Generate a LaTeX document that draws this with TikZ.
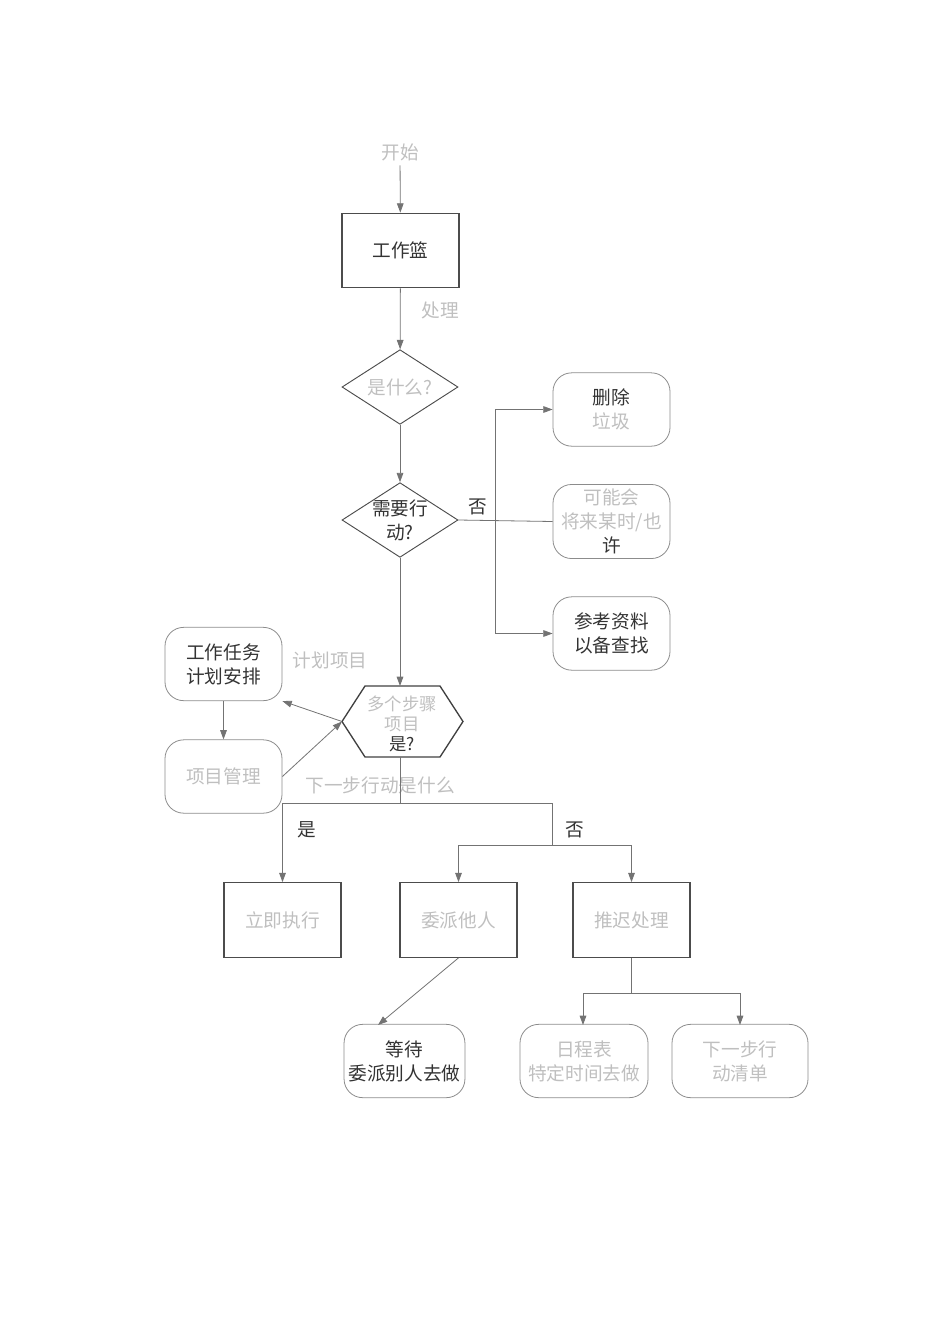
\documentclass[tikz,border=0pt]{standalone}
\usepackage{fontspec}
\newfontfamily\cjk{Noto Sans CJK SC}
\usetikzlibrary{arrows.meta,shapes.geometric}
\begin{document}
\begin{tikzpicture}[x=0.75pt,y=-0.75pt,
  every node/.style={font=\cjk\fontsize{14}{18}\selectfont,align=center,text=black!80},
  faint/.style={text=black!25},
  ln/.style={draw=black!55,line width=0.6pt},
  ar/.style={ln,-{Triangle[length=7pt,width=5pt]}},
  sq/.style={draw=black!70,line width=0.8pt,minimum width=87.75pt,minimum height=56pt},
  rb/.style={draw=black!45,line width=0.6pt,rounded corners=14pt,minimum width=87.75pt,minimum height=55pt},
  dm/.style={draw=black!70,line width=0.7pt,diamond,aspect=1.55,minimum width=87pt,minimum height=56pt,inner sep=0pt}]
\useasboundingbox (0,0) rectangle (950,1318);
\node[faint] (start) at (400,152) {开始};
\node[sq] (inbox) at (400.5,250.5) {工作篮};
\node[faint] at (440,310) {处理};
\node[dm] (what) at (400,387) {};
\node[faint] at (400,387) {是什么?};
\node[dm] (act) at (400,520) {};
\node at (400,520) {需要行\\动?};
\node at (478,507) {否};
\node[rb] (del) at (611.5,409.5) {删除\\\textcolor{black!25}{垃圾}};
\node[rb] (later) at (611.5,521.5) {\textcolor{black!25}{可能会}\\\textcolor{black!25}{将来某时/也}\\许};
\node[rb] (ref) at (611.5,633.5) {参考资料\\以备查找};
\draw[draw=black!75,line width=1pt] (342,721.5) -- (365,686) -- (440,686) -- (463,721.5) -- (440,757) -- (365,757) -- cycle;
\node[font=\cjk\fontsize{13}{15}\selectfont] (hex) at (402,724) {\textcolor{black!25}{多个步骤}\\\textcolor{black!25}{项目}\\是?};
\coordinate (hexL) at (342,721.5);
\coordinate (hexT) at (400,686);
\coordinate (hexB) at (400,757);
\node[rb] (plan) at (223.5,664) {工作任务\\计划安排};
\node[rb] (proj) at (223.5,776.5) {\textcolor{black!25}{项目管理}};
\node[faint] at (330,660) {计划项目};
\node[faint] at (380,785) {下一步行动是什么};
\node[sq] (do) at (282.5,920) {\textcolor{black!25}{立即执行}};
\node[sq] (dele) at (458.5,920) {\textcolor{black!25}{委派他人}};
\node[sq] (defer) at (631.5,920) {\textcolor{black!25}{推迟处理}};
\node at (307,830) {是};
\node at (575,830) {否};
\node[rb] (wait) at (404.5,1061) {等待\\委派别人去做};
\node[rb,minimum width=96pt] (cal) at (584,1061) {\textcolor{black!25}{日程表}\\\textcolor{black!25}{特定时间去做}};
\node[rb,minimum width=102pt] (next) at (740,1061) {\textcolor{black!25}{下一步行}\\\textcolor{black!25}{动清单}};
\draw[ar] (start) -- (inbox);
\draw[ar] (inbox) -- (what);
\draw[ar] (what) -- (act);
\draw[ln] (act.east) -- (later.west);
\draw[ar] (495,409.5) -- (del.west);
\draw[ln] (495,409.5) -- (495,633.5);
\draw[ar] (495,633.5) -- (ref.west);
\draw[ar] (act.south) -- (hexT);
\draw[ar] (hexL) -- (plan.south east);
\draw[ar] (proj.east) -- (hexL);
\draw[ar] (plan) -- (proj);
\draw[ln] (hexB) -- (400,803);
\draw[ln] (282.5,803) -- (552,803);
\draw[ar] (282.5,803) -- (do.north);
\draw[ln] (552,803) -- (552,845);
\draw[ln] (458.5,845) -- (631.5,845);
\draw[ar] (458.5,845) -- (dele.north);
\draw[ar] (631.5,845) -- (defer.north);
\draw[ar] (dele.south) -- (378,1025);
\draw[ln] (defer.south) -- (631.5,993);
\draw[ln] (583,993) -- (740,993);
\draw[ar] (583,993) -- (583,1025);
\draw[ar] (740,993) -- (740,1025);
\end{tikzpicture}
\end{document}
